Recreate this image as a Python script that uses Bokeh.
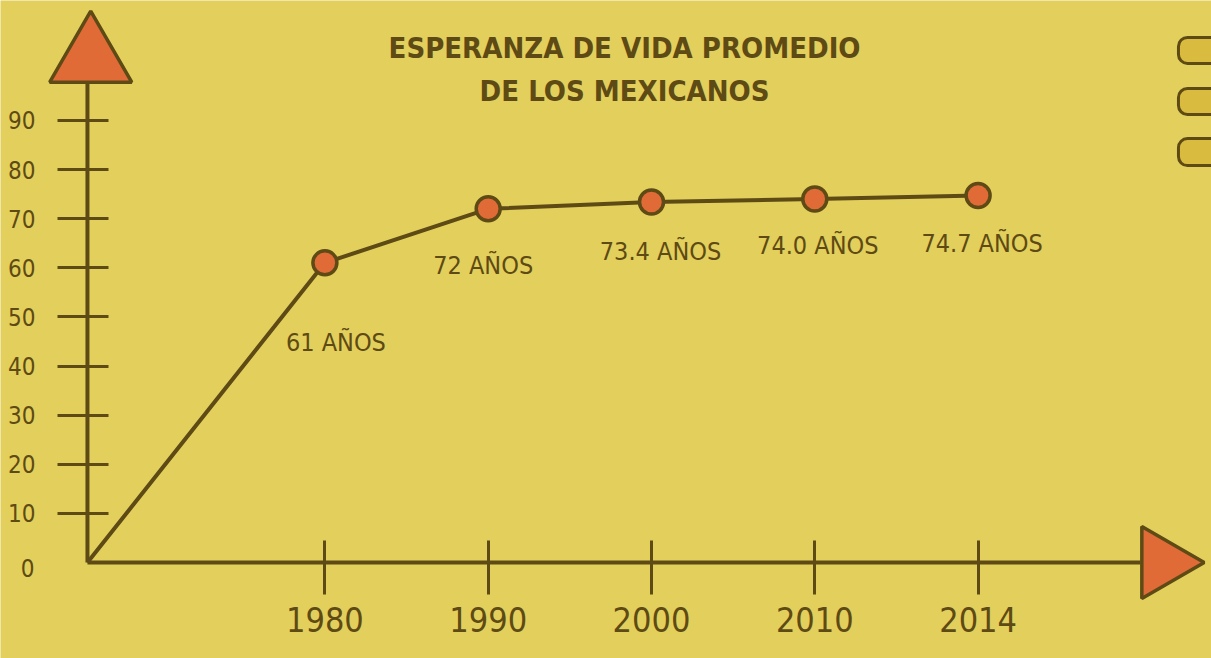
import math
from bokeh.plotting import figure
from bokeh.models import (Range1d, LinearAxis, FixedTicker, Label, BoxAnnotation,
                          ColumnDataSource)
from bokeh.core.properties import value
from bokeh.embed import file_html
from bokeh.resources import INLINE

# ---- data ----
years = ["1980", "1990", "2000", "2010", "2014"]
life_expectancy = [61, 72, 73.4, 74.0, 74.7]
value_labels = ["61 AÑOS", "72 AÑOS", "73.4 AÑOS", "74.0 AÑOS", "74.7 AÑOS"]
y_ticks = [10, 20, 30, 40, 50, 60, 70, 80, 90]
title_lines = ["ESPERANZA DE VIDA PROMEDIO", "DE LOS MEXICANOS"]

# ---- style ----
BG = "#E3CF5B"
DARK = "#5E4A14"
ORANGE = "#E06B36"
TAB = "#D9BB3F"
FONT = "'DejaVu Sans Condensed', 'Open Sans', sans-serif"

X0, X1 = -0.9865, 6.4293
Y0, Y1 = -19.54, 114.41
XA = -0.454          # y-axis position (data x)

xpos = list(range(1, len(years) + 1))
label_dx = [11, -5, 9, 3, 4]
label_dy = [80, 57, 50, 46, 48]

src = ColumnDataSource(dict(x=xpos, y=life_expectancy, label=value_labels,
                            dx=label_dx, dy=label_dy))

p = figure(width=1211, height=658, x_range=Range1d(X0, X1), y_range=Range1d(Y0, Y1),
           x_axis_type=None, y_axis_type=None, toolbar_location=None,
           output_backend="svg", min_border=0, background_fill_color=BG,
           border_fill_color=BG, outline_line_color=None)

# axes lines
p.segment(x0=[XA], y0=[0], x1=[XA], y1=[97.5], line_color=DARK, line_width=4)
p.segment(x0=[XA], y0=[0], x1=[5.994], y1=[0], line_color=DARK, line_width=4)

# arrow heads
p.scatter(x=[XA + 0.02], y=[102.6], marker="triangle", size=82, fill_color=ORANGE,
          line_color=DARK, line_width=3.5)
p.scatter(x=[6.13], y=[0], marker="triangle", size=72, angle=-math.pi / 2,
          fill_color=ORANGE, line_color=DARK, line_width=3.5)

# y axis
yax = LinearAxis(fixed_location=XA, ticker=FixedTicker(ticks=y_ticks))
yax.axis_line_color = None
yax.major_tick_line_color = DARK
yax.major_tick_line_width = 3
yax.major_tick_out = 30
yax.major_tick_in = 21
yax.minor_tick_line_color = None
yax.major_label_standoff = 22
yax.major_label_text_font = FONT
yax.major_label_text_font_size = "24px"
yax.major_label_text_color = DARK
p.add_layout(yax, "left")

# x axis
xax = LinearAxis(fixed_location=0, ticker=FixedTicker(ticks=xpos),
                 major_label_overrides={i: y for i, y in zip(xpos, years)})
xax.axis_line_color = None
xax.major_tick_line_color = DARK
xax.major_tick_line_width = 3
xax.major_tick_out = 32
xax.major_tick_in = 22
xax.minor_tick_line_color = None
xax.major_label_standoff = 12
xax.major_label_text_font = FONT
xax.major_label_text_font_size = "34px"
xax.major_label_text_color = DARK
p.add_layout(xax, "below")

p.add_layout(Label(x=XA, y=0, x_offset=-53, y_offset=-5, text="0", text_align="right",
                   text_baseline="middle", text_font=FONT, text_font_size="24px",
                   text_color=DARK))

# data line and markers
p.line(x=[XA] + xpos, y=[0] + life_expectancy, line_color=DARK, line_width=4)
p.scatter(x="x", y="y", source=src, size=24, fill_color=ORANGE, line_color=DARK,
          line_width=3.5)
p.text(x="x", y="y", text="label", source=src, x_offset="dx", y_offset="dy",
       text_align="center", text_baseline="middle", text_font=value(FONT),
       text_font_size="25px", text_color=DARK)

# title
for line, ty in zip(title_lines, [104.8, 95.9]):
    p.add_layout(Label(x=2.835, y=ty, text=line, text_align="center",
                       text_baseline="middle", text_font=FONT, text_font_size="29px",
                       text_font_style="bold", text_color=DARK))

# decorative tabs at right
for top, bottom in [(106.9, 101.6), (96.5, 91.2), (86.3, 80.8)]:
    p.add_layout(BoxAnnotation(left=6.227, right=X1 + 0.3, top=top, bottom=bottom,
                               fill_color=TAB, fill_alpha=1, line_color=DARK,
                               line_width=3, line_alpha=1,
                               border_radius=(9, 0, 0, 9)))

open("out.html", "w").write(file_html(p, INLINE))
